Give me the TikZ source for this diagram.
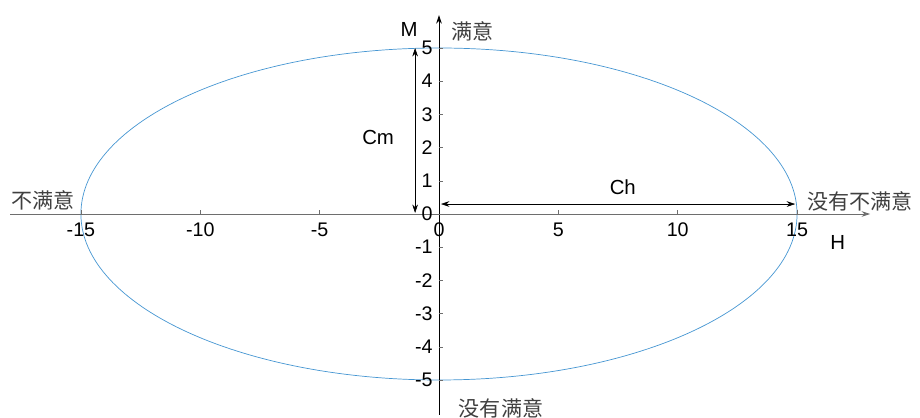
\documentclass[tikz,border=0pt]{standalone}
\usepackage{fontspec}
\setmainfont{Liberation Sans}
\newfontfamily\cjk{Noto Sans CJK SC}
\usetikzlibrary{arrows.meta, positioning}
\definecolor{EllBlue}{RGB}{70,150,210}
\definecolor{AxisGray}{RGB}{110,110,110}

\begin{document}
\begin{tikzpicture}[x=0.5968cm, y=0.83cm, >={Stealth[length=6pt,width=4pt]},
        axis/.style={->, line width=0.6pt},
        dim/.style={<->, line width=0.4pt},
        num/.style={font=\fontsize{14}{16}\selectfont, inner sep=1pt},
        lab/.style={font=\fontsize{14.5}{16}\selectfont},
        cn/.style={font=\cjk\fontsize{15}{17}\selectfont, text=black!75}]

    \useasboundingbox (-18.39,-6.116) rectangle (20.15,6.446);

    % ellipse
    \draw[EllBlue, line width=0.5pt] (0,0) ellipse (15 and 5);

    % axes
    \coordinate (xl) at (-17.97,0);
    \coordinate (xr) at (18.06,0);
    \coordinate (yb) at (0,-6.05);
    \coordinate (yt) at (0,5.99);
    \draw[axis, AxisGray] (xl) -- (xr);
    \draw[axis] (yb) -- (yt);

    % ticks and numbers
    \foreach \x in {-15,-10,-5,5,10,15} {
        \draw[AxisGray, line width=0.4pt] (\x,0) -- ++(0,0.12);
        \node[num, below] (tx\x) at (\x,-0.22) {\x};
    }
    \node[num, below] (tx0) at (0,-0.22) {0};
    \foreach \y in {-5,...,5} {
        \draw[AxisGray, line width=0.4pt] (0,\y) -- ++(0.18,0);
        \node[num, left] (ty\y) at (-0.2,\y) {\y};
    }

    % dimension arrows
    \coordinate (cmt) at (-1,5);
    \coordinate (cmb) at (-1,0.03);
    \coordinate (chl) at (0.08,0.3);
    \coordinate (chr) at (14.92,0.3);
    \draw[dim] (cmt) -- (cmb);
    \draw[dim] (chl) -- (chr);
    \node[lab] (cm) at (-2.55,2.3) {Cm};
    \node[lab] (ch) at (7.7,0.81) {Ch};

    % axis names
    \node[lab] (m) at (-1.25,5.55) {M};
    \node[lab] (h) at (16.7,-0.87) {H};
    \node[cn] (sat) at (1.4,5.5) {满意};
    \node[cn] (dis) at (-16.6,0.42) {不满意};
    \node[cn] (nodis) at (17.65,0.39) {没有不满意};
    \node[cn] (nosat) at (2.6,-5.85) {没有满意};
\end{tikzpicture}
\end{document}
